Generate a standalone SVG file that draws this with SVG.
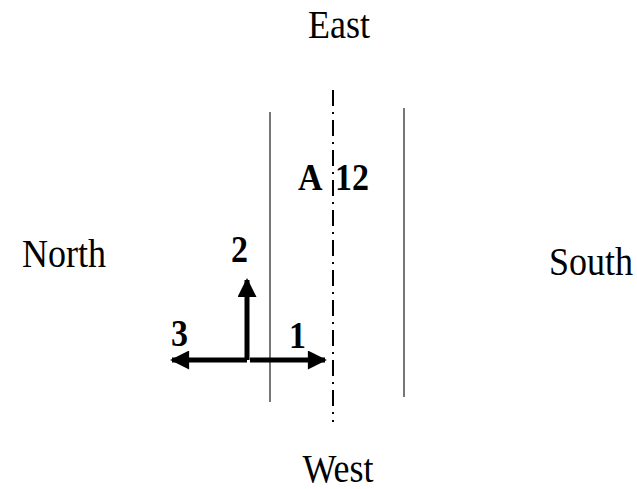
<svg xmlns="http://www.w3.org/2000/svg" width="637" height="489" viewBox="0 0 637 489">
<style>
.lbl{font-family:"Liberation Serif",serif;font-size:36px;fill:#000}
.b{font-family:"Liberation Serif",serif;font-size:34px;font-weight:bold;fill:#000}
.edge{stroke:#555;stroke-width:1.6;fill:none}
.arr{stroke:#000;stroke-width:5;fill:none}
</style>
<defs>
<marker id="ah" viewBox="0 0 10 10" refX="9" refY="5" markerWidth="4.4" markerHeight="3.8" orient="auto-start-reverse" markerUnits="strokeWidth">
<path d="M0,0 L10,5 L0,10 z" fill="#000"/>
</marker>
</defs>
<rect width="637" height="489" fill="#fff"/>
<g id="east"><text class="lbl" transform="translate(339,38) scale(1,1.1)" text-anchor="middle">East</text></g>
<g id="west"><text class="lbl" transform="translate(338,482) scale(1,1.1)" text-anchor="middle">West</text></g>
<g id="north"><text class="lbl" transform="translate(22,267) scale(1,1.1)">North</text></g>
<g id="south"><text class="lbl" transform="translate(549,275) scale(1,1.1)">South</text></g>
<g id="road">
<line class="edge" x1="270" y1="112" x2="270" y2="402"/>
<line class="edge" x1="404" y1="108" x2="404" y2="397"/>
<line x1="333" y1="90" x2="333" y2="422" stroke="#000" stroke-width="2" stroke-dasharray="16 6 2 6"/>
</g>
<g id="labelA"><text class="b" transform="translate(298,190) scale(1,1.1)">A</text></g>
<g id="label12"><text class="b" transform="translate(335,190) scale(1,1.1)">12</text></g>
<g id="connectors">
<line class="arr" x1="250" y1="360" x2="325" y2="360" marker-end="url(#ah)"/>
<line class="arr" x1="247" y1="360" x2="172" y2="360" marker-end="url(#ah)"/>
<line class="arr" x1="247" y1="360" x2="247" y2="280" marker-end="url(#ah)"/>
</g>
<g id="dirs">
<text class="b" transform="translate(231,262) scale(1,1.1)">2</text>
<text class="b" transform="translate(171,346) scale(1,1.1)">3</text>
<text class="b" transform="translate(289,348) scale(1,1.1)">1</text>
</g>
</svg>
